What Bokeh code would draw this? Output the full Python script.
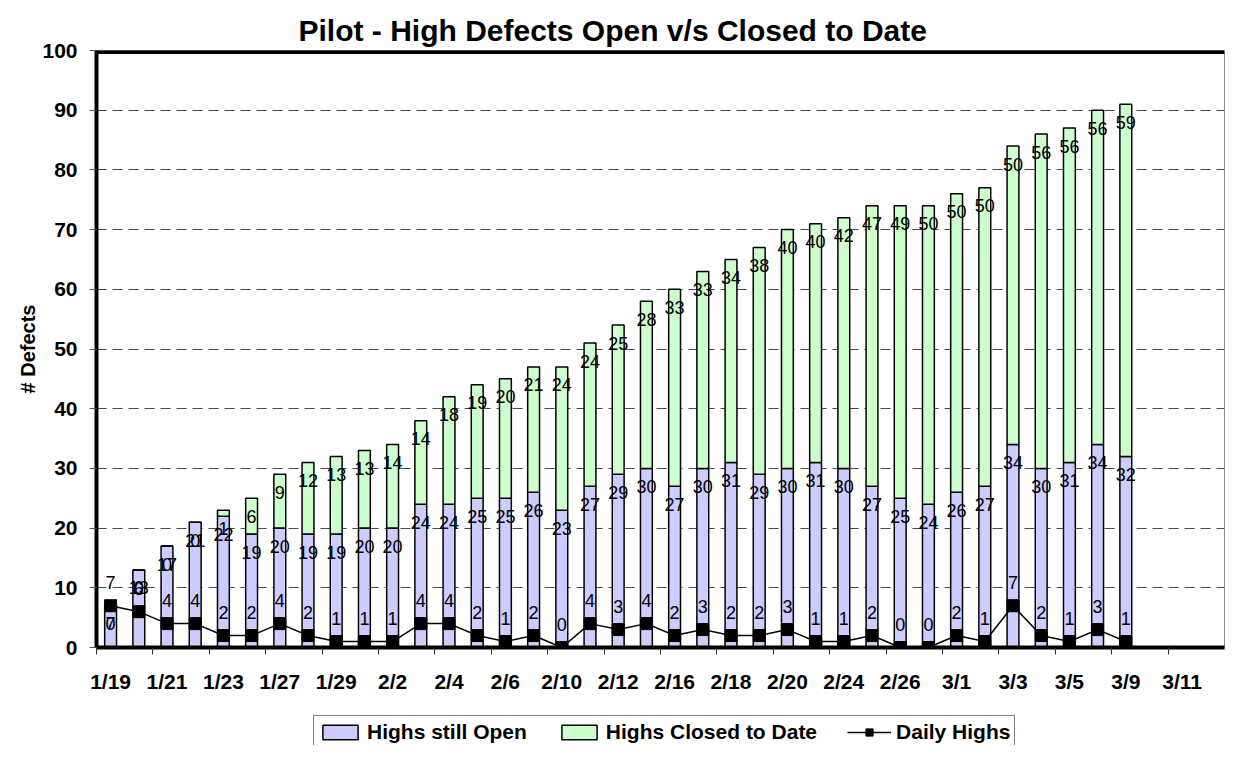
from bokeh.plotting import figure
from bokeh.layouts import column
from bokeh.models import (ColumnDataSource, Range1d, FixedTicker, LinearAxis, Legend,
                          LegendItem, Span)
from bokeh.core.properties import value
from bokeh.transform import stack
from bokeh.embed import file_html
from bokeh.resources import INLINE

# ---- data ----
dates = ["1/19", "1/20", "1/21", "1/22", "1/23", "1/26", "1/27", "1/28", "1/29", "1/30",
         "2/2", "2/3", "2/4", "2/5", "2/6", "2/9", "2/10", "2/11", "2/12", "2/13",
         "2/16", "2/17", "2/18", "2/19", "2/20", "2/23", "2/24", "2/25", "2/26", "2/27",
         "3/1", "3/2", "3/3", "3/4", "3/5", "3/8", "3/9", "3/10", "3/11", "3/12"]
highs_open = [7, 13, 17, 21, 22, 19, 20, 19, 19, 20, 20, 24, 24, 25, 25, 26, 23, 27, 29, 30,
              27, 30, 31, 29, 30, 31, 30, 27, 25, 24, 26, 27, 34, 30, 31, 34, 32]
highs_closed = [0, 0, 0, 0, 1, 6, 9, 12, 13, 13, 14, 14, 18, 19, 20, 21, 24, 24, 25, 28,
                33, 33, 34, 38, 40, 40, 42, 47, 49, 50, 50, 50, 50, 56, 56, 56, 59]
daily_highs = [7, 6, 4, 4, 2, 2, 4, 2, 1, 1, 1, 4, 4, 2, 1, 2, 0, 4, 3, 4,
               2, 3, 2, 2, 3, 1, 1, 2, 0, 0, 2, 1, 7, 2, 1, 3, 1]
y_ticks = list(range(0, 101, 10))
series_names = ["Highs still Open", "Highs Closed to Date", "Daily Highs"]
title_text = "Pilot - High Defects Open v/s Closed to Date"

BLUE = "#CCCCFF"
GREEN = "#CCFFCC"
FONT = "Liberation Sans"
n_cat = len(dates)

src = ColumnDataSource(dict(
    x=[i + 0.5 for i in range(len(highs_open))],
    open=highs_open,
    closed=highs_closed,
    daily=daily_highs,
    open_lbl=[str(v) for v in highs_open],
    closed_lbl=[str(v) for v in highs_closed],
    daily_lbl=[str(v) for v in daily_highs],
))

p = figure(width=1225, height=697, output_backend="svg", toolbar_location=None,
           x_range=Range1d(0, n_cat), y_range=Range1d(0, 100),
           x_axis_location=None, min_border_left=96, min_border_right=1,
           min_border_top=50, min_border_bottom=50, title=title_text)
p.background_fill_color = "white"
p.border_fill_color = "white"
p.outline_line_color = "#909090"
p.outline_line_width = 1
p.xgrid.visible = False

# title
p.title.align = "left"
p.title.offset = 202
p.title.vertical_align = "top"
p.title.standoff = 4
p.title.text_font = FONT
p.title.text_font_style = "bold"
p.title.text_font_size = "30px"
p.title.text_color = "black"

# y axis
ya = p.yaxis[0]
ya.ticker = FixedTicker(ticks=y_ticks)
ya.axis_line_width = 4
ya.axis_line_color = "black"
ya.major_tick_out = 7
ya.major_tick_in = 0
ya.major_tick_line_color = "#555555"
ya.minor_tick_line_color = None
ya.major_label_standoff = 12
ya.major_label_text_font = FONT
ya.major_label_text_font_style = "bold"
ya.major_label_text_font_size = "21px"
ya.major_label_text_color = "black"
ya.axis_label = "# Defects"
ya.axis_label_text_font = FONT
ya.axis_label_text_font_style = "bold"
ya.axis_label_text_font_size = "20px"
ya.axis_label_text_color = "black"
ya.axis_label_standoff = 0

p.ygrid.ticker = FixedTicker(ticks=y_ticks)
p.ygrid.grid_line_color = "#4a4a4a"
p.ygrid.grid_line_dash = "10 6"
p.ygrid.grid_line_width = 1

# x axis: tick marks at category-pair boundaries
xa1 = LinearAxis(ticker=FixedTicker(ticks=list(range(0, n_cat, 2))))
xa1.axis_line_width = 4
xa1.axis_line_color = "black"
xa1.major_tick_out = 7
xa1.major_tick_in = 0
xa1.major_tick_line_color = "#333333"
xa1.minor_tick_line_color = None
xa1.major_label_text_font_size = "1px"
xa1.major_label_text_alpha = 0
xa1.major_label_standoff = 0
p.add_layout(xa1, "below")

# x axis: labels at every second category
xa2 = LinearAxis(ticker=FixedTicker(ticks=[i + 0.5 for i in range(0, n_cat, 2)]),
                 major_label_overrides={i + 0.5: dates[i] for i in range(0, n_cat, 2)})
xa2.axis_line_color = None
xa2.major_tick_out = 0
xa2.major_tick_in = 0
xa2.minor_tick_line_color = None
xa2.major_label_standoff = 15
xa2.major_label_text_font = FONT
xa2.major_label_text_font_style = "bold"
xa2.major_label_text_font_size = "21px"
xa2.major_label_text_color = "black"
p.add_layout(xa2, "below")

# top thick border
p.add_layout(Span(location=100, dimension="width", line_color="black", line_width=7))

# stacked bars
bar_kw = dict(x="x", width=0.42, fill_color=[BLUE, GREEN], line_color="black", line_width=1.5)
p.vbar_stack(["open", "closed"], source=src, **bar_kw)

# daily highs line
line_kw = dict(line_color="black", line_width=1.5)
mark_kw = dict(marker="square", size=12, fill_color="black", line_color="black")
p.line("x", "daily", source=src, **line_kw)
p.scatter("x", "daily", source=src, **mark_kw)

# data labels
lab_kw = dict(text_font=value(FONT), text_font_size="18px",
              text_align="center", text_baseline="middle", text_color="black")
p.text(x="x", y="open", text="open_lbl", source=src, y_offset=18, **lab_kw)
p.text(x="x", y=stack("open", "closed"), text="closed_lbl", source=src, y_offset=18, **lab_kw)
p.text(x="x", y="daily", text="daily_lbl", source=src, y_offset=-23, **lab_kw)

# ---- legend strip (separate figure below the chart; its renderers are hidden) ----
p2 = figure(width=1225, height=48, output_backend="svg", toolbar_location=None,
            x_range=Range1d(0, n_cat), y_range=Range1d(-2000, -1999),
            x_axis_location=None, y_axis_location=None,
            min_border_left=0, min_border_right=0, min_border_top=0, min_border_bottom=0)
p2.title.visible = False
p2.outline_line_color = None
p2.xgrid.visible = False
p2.ygrid.visible = False
p2.background_fill_color = "white"
p2.border_fill_color = "white"
lb = p2.vbar_stack(["open", "closed"], source=src, **bar_kw)
ll = p2.line("x", "daily", source=src, **line_kw)
lm = p2.scatter("x", "daily", source=src, **mark_kw)
for r in list(lb) + [ll, lm]:
    r.visible = False

legend = Legend(items=[LegendItem(label=series_names[0], renderers=[lb[0]]),
                       LegendItem(label=series_names[1], renderers=[lb[1]]),
                       LegendItem(label=series_names[2], renderers=[ll, lm])],
                orientation="horizontal", location=(217, -4), click_policy="none")
legend.label_text_font = FONT
legend.label_text_font_style = "bold"
legend.label_text_font_size = "21px"
legend.label_text_color = "black"
legend.glyph_width = 44
legend.glyph_height = 18
legend.label_standoff = 5
legend.spacing = 30
legend.padding = 4
legend.margin = 0
legend.border_line_color = "black"
legend.border_line_width = 1
legend.background_fill_color = "white"
legend.background_fill_alpha = 1
p2.add_layout(legend, "center")

layout = column(p, p2, spacing=0)
open("out.html", "w").write(file_html(layout, INLINE))
